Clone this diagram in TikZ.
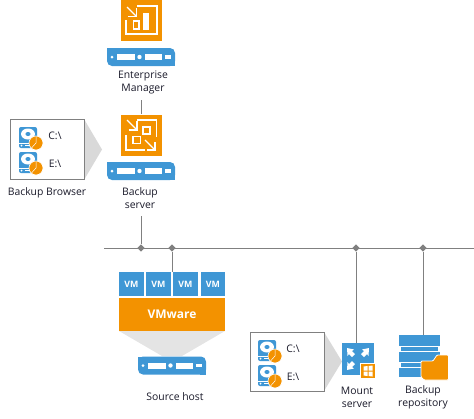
\documentclass[tikz,border=0pt]{standalone}
\usepackage{fontspec}
\setmainfont{Open Sans}
\usepackage{tikz}
\usetikzlibrary{shapes.geometric}
\definecolor{veeamorange}{HTML}{F39200}
\definecolor{veeamblue}{HTML}{3F97D5}
\definecolor{veeamgray}{HTML}{808080}
\definecolor{veeamcone}{HTML}{D9D9D9}
\definecolor{veeamtext}{HTML}{1A1A2A}
\tikzset{
  % blue rack unit, origin in its centre
  rackunit/.pic={
    \fill[veeamblue, rounded corners=5pt] (-34,-9) -- (34,-9) -- (34,9) -- (-34,9) -- cycle;
    \fill[veeamblue] (-34,-9) rectangle (-28,-3);
    \fill[veeamblue] (34,9) rectangle (28,3);
    \fill[white] (-29,0) circle (1.5);
    \fill[white] (-24.5,-3) rectangle (-6.5,3);
    \fill[white] (-1.5,0) circle (2.2);
    \fill[white] (3.5,-3) rectangle (21,3);
    \fill[white] (24,-1.6) rectangle (30,1.6);
  },
  % hard disk with the orange disc, origin in its centre
  diskicon/.pic={
    \fill[veeamblue, rounded corners=2pt] (-10,-11) rectangle (8,10);
    \fill[white] (-1,-4) ellipse (7 and 5.5);
    \fill[veeamblue] (-1,-4) ellipse (2.6 and 2);
    \draw[white, line width=.6pt] (-10,5) -- (1,5);
    \fill[white] (-7.5,7.5) circle (1);
    \fill[white] (-4,7) rectangle (1,8);
    \fill[veeamorange, draw=white, line width=.6pt] (7,5) circle (7);
    \draw[white, line width=.5pt] (7,-1.5) -- (7,5) -- (2.5,10);
  },
  drivebox/.style={draw=veeamgray, line width=.8pt, fill=white, minimum width=74, minimum height=60},
  cone/.style={fill=veeamcone, draw=none},
  orangesq/.style={fill=veeamorange, minimum width=41, minimum height=41, inner sep=0pt},
  vmbox/.style={fill=veeamblue, text=white, font=\bfseries\fontsize{8.8}{9}\selectfont,
                minimum width=24.5, minimum height=24, inner sep=0pt},
  link/.style={draw=veeamgray, line width=.9pt},
  joint/.style={diamond, fill=veeamgray, minimum size=7.5, inner sep=0pt},
  glyph/.style={white, line width=1.3pt},
  lbl/.style={text=veeamtext, align=center, inner sep=0pt, font=\fontsize{10.4}{13}\selectfont},
  drv/.style={text=veeamtext, inner sep=0pt, font=\fontsize{10.4}{12}\selectfont}
}
\begin{document}
\begin{tikzpicture}[x=1pt,y=-1pt]
  \useasboundingbox (0,0) rectangle (474,418);

  % enterprise manager
  \begin{scope}
    \clip (0,0) rectangle (474,418);
    \node[orangesq, minimum height=45] (emicon) at (141,18.5) {};
  \end{scope}
  \draw[glyph] (137,6) -- (157,6) -- (157,34) -- (126,34) -- (126,20);
  \draw[glyph] (127,7) -- (136,16);
  \draw[glyph] (128,16.5) -- (136.5,16.5) -- (136.5,8);
  \draw[glyph] (133.5,21) rectangle (139,29);
  \fill[white] (143,13) rectangle (149,29.5);
  \pic at (141,57) {rackunit};
  \node[lbl] (emlabel) at (143,82.5) {Enterprise\\Manager};

  % backup server
  \node[orangesq] (bsicon) at (141,135) {};
  \draw[glyph] (137,120) -- (156.5,120) -- (156.5,137);
  \draw[glyph] (126,135) -- (126,150) -- (145,150);
  \draw[glyph] (127,120) -- (137,130);
  \draw[glyph] (128.5,130) -- (137,130) -- (137,121);
  \draw[glyph] (145,140) -- (155,150);
  \draw[glyph] (147,150) -- (155,150) -- (155,142);
  \draw[glyph] (143,127) rectangle (150,134);
  \draw[glyph] (133,136.5) rectangle (140.5,143.5);
  \pic at (141,171) {rackunit};
  \node[lbl] (bslabel) at (140,198.5) {Backup\\server};

  % backup browser
  \fill[cone] (84,119) -- (102,149.5) -- (84,180) -- cycle;
  \node[drivebox] (browserbox) at (47,149.5) {};
  \pic at (29,138) {diskicon};
  \pic at (29,163) {diskicon};
  \node[drv] (browserc) at (55,136) {C:\textbackslash};
  \node[drv] (browsere) at (55,164) {E:\textbackslash};
  \node[lbl] (browserlabel) at (47,193) {Backup Browser};

  % network
  \coordinate (busleft) at (104,248);
  \coordinate (busright) at (474,248);
  \draw[link] (busleft) -- (busright);
  \node[joint] (jbackup) at (141,248) {};
  \node[joint] (jvm) at (172,248) {};
  \node[joint] (jmount) at (356,248) {};
  \node[joint] (jrepo) at (423,248) {};

  % source host
  \node[vmbox] (vma) at (131.5,284) {VM};
  \node[vmbox] (vmb) at (158.5,284) {VM};
  \node[vmbox] (vmc) at (185.5,284) {VM};
  \node[vmbox] (vmd) at (213,284) {VM};
  \node[fill=veeamorange, text=white, font=\bfseries\fontsize{12}{12}\selectfont,
        minimum width=106, minimum height=33, inner sep=0pt] (vmware) at (172,314.5) {VMware};
  \fill[veeamcone!70] (119,331) -- (225,331) -- (182,356) -- (162,356) -- cycle;
  \pic at (172,365.5) {rackunit};
  \node[lbl] (hostlabel) at (175,397) {Source host};

  % mount server
  \fill[cone] (324,332) -- (342,361.5) -- (324,391) -- cycle;
  \node[drivebox, minimum height=59] (mountbox) at (287,361.5) {};
  \pic at (268,351) {diskicon};
  \pic at (268,376) {diskicon};
  \node[drv] (mountc) at (293,349) {C:\textbackslash};
  \node[drv] (mounte) at (293,377) {E:\textbackslash};
  \node[fill=veeamblue, minimum size=32, inner sep=0pt] (mounticon) at (358,359) {};
  \fill[white] (347,348) -- (354,349.5) -- (352,351) -- (355,354) -- (352,357) -- (349,354) -- (347.5,356) -- cycle;
  \fill[white] (369,348) -- (362,349.5) -- (364,351) -- (361,354) -- (364,357) -- (367,354) -- (368.5,356) -- cycle;
  \fill[white] (347,370) -- (354,368.5) -- (352,367) -- (355,364) -- (352,361) -- (349,364) -- (347.5,362) -- cycle;
  \node[fill=veeamorange, draw=white, line width=.6pt, minimum size=14.5, inner sep=0pt] (winbadge) at (368,371) {};
  \fill[white] (363.5,366.5) -- (367.5,366) -- (367.5,370.5) -- (363.5,370.5) -- cycle
               (368.5,366) -- (372.5,365.5) -- (372.5,370.5) -- (368.5,370.5) -- cycle
               (363.5,371.5) -- (367.5,371.5) -- (367.5,376) -- (363.5,375.5) -- cycle
               (368.5,371.5) -- (372.5,371.5) -- (372.5,376.5) -- (368.5,376) -- cycle;
  \node[lbl] (mountlabel) at (357,397.5) {Mount\\server};

  % backup repository
  \node[fill=veeamblue, minimum width=41, minimum height=11, inner sep=0pt] (repotop) at (419.5,340.5) {};
  \fill[veeamblue] (401,346.6) rectangle (438,351);
  \fill[veeamblue] (399,351.6) rectangle (440,362.4);
  \fill[veeamblue] (401,363) rectangle (438,367);
  \fill[veeamblue] (399,367.6) rectangle (440,377);
  \fill[veeamorange, draw=white, line width=.8pt, rounded corners=1pt]
    (421,361) -- (433,361) -- (437,355) -- (448.5,355) -- (448.5,380) -- (424,380) -- (421,377) -- cycle;
  \node[lbl] (repolabel) at (423,397.5) {Backup\\repository};

  % links
  \coordinate (emfoot) at (141,100);
  \coordinate (bsfoot) at (141,216);
  \coordinate (vmtop) at (172,272);
  \draw[link] (emfoot) -- (emfoot |- bsicon.north);
  \draw[link] (bsfoot) -- (jbackup);
  \draw[link] (jvm) -- (vmtop);
  \draw[link] (jmount) -- (jmount |- mounticon.north);
  \draw[link] (jrepo) -- (jrepo |- repotop.north);
\end{tikzpicture}
\end{document}
